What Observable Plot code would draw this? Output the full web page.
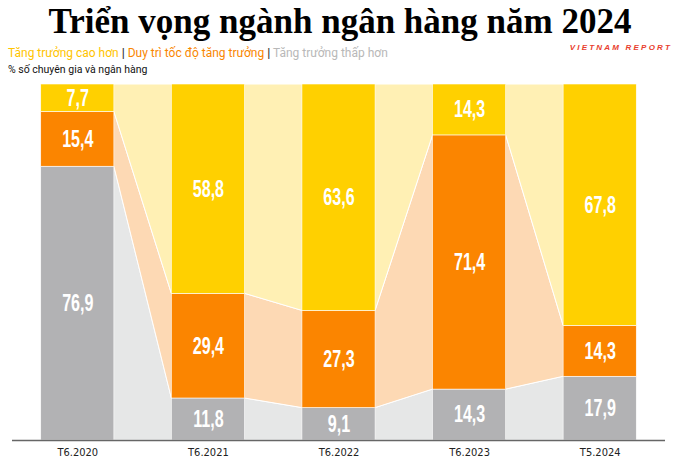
<!DOCTYPE html>
<html>
<head>
<meta charset="utf-8">
<script src="https://cdn.jsdelivr.net/npm/d3@7"></script>
<script src="https://cdn.jsdelivr.net/npm/@observablehq/plot@0.6"></script>
<style>
  html, body { margin: 0; padding: 0; background: #fff; }
  #wrap { position: relative; width: 680px; height: 464px; overflow: hidden; }
  #header { position: relative; width: 680px; height: 80px; }
  #title { position: absolute; left: 0; top: 0; width: 680px; text-align: center;
    font-family: "Liberation Serif", "Times New Roman", serif; font-weight: bold;
    font-size: 35px; line-height: 44px; color: #000; }
  #brand { position: absolute; right: 8px; top: 43px; font-family: "Liberation Sans", Arial, sans-serif;
    font-weight: bold; font-style: italic; font-size: 8px; letter-spacing: 2.2px; color: #e8402e; }
  #legend { position: absolute; left: 8px; top: 45px; font-family: Roboto, "Noto Sans", sans-serif;
    font-size: 12px; line-height: 16px; white-space: nowrap; }
  #legend .sep { color: #333; font-weight: bold; }
  #sub { position: absolute; left: 8px; top: 63px; font-family: Roboto, "Noto Sans", sans-serif;
    font-size: 10.5px; line-height: 14px; color: #111; }
  #chart svg { display: block; }
</style>
</head>
<body>
<div id="wrap">
  <div id="header">
    <div id="title">Triển vọng ngành ngân hàng năm 2024</div>
    <div id="brand">VIETNAM REPORT</div>
    <div id="legend"></div>
    <div id="sub">% số chuyên gia và ngân hàng</div>
  </div>
  <div id="chart"></div>
</div>
<script>
const periods = ["T6.2020", "T6.2021", "T6.2022", "T6.2023", "T5.2024"];
const higher = [7.7, 58.8, 63.6, 14.3, 67.8];
const same = [15.4, 29.4, 27.3, 71.4, 14.3];
const lower = [76.9, 11.8, 9.1, 14.3, 17.9];
const seriesNames = ["Tăng trưởng cao hơn", "Duy trì tốc độ tăng trưởng", "Tăng trưởng thấp hơn"];

const barColor = {lower: "#b2b2b4", same: "#fb8500", higher: "#ffd000"};
const lightColor = {lower: "#e6e7e7", same: "#fdd9b4", higher: "#fff0b4"};
const legendColor = ["#ffc400", "#f98600", "#b8b8b8"];

// legend
document.getElementById("legend").innerHTML = seriesNames
  .map((s, k) => `<span style="color:${legendColor[k]}">${s}</span>`)
  .join(' <span class="sep">|</span> ');

// stacked rows
const rows = [];
periods.forEach((p, i) => {
  let base = 0;
  for (const [key, arr] of [["lower", lower], ["same", same], ["higher", higher]]) {
    const v = arr[i];
    rows.push({i, period: p, key, value: v, y1: base, y2: base + v});
    base += v;
  }
});

const hw = 0.28; // half bar width in index units
// connecting area points at bar edges
const areaPts = [];
for (const r of rows) {
  areaPts.push({x: r.i - hw, y1: r.y1, y2: r.y2, key: r.key});
  areaPts.push({x: r.i + hw, y1: r.y1, y2: r.y2, key: r.key});
}

const fmt = v => String(v.toFixed(1)).replace(".", ",");

const chart = Plot.plot({
  width: 680,
  height: 384,
  marginTop: 4,
  marginBottom: 24,
  marginLeft: 12,
  marginRight: 15,
  x: {domain: [-0.5, 4.5], axis: null},
  y: {domain: [0, 100], axis: null},
  marks: [
    Plot.area(areaPts, {x1: "x", y1: "y1", y2: "y2", z: "key",
      fill: d => lightColor[d.key], stroke: "white", strokeWidth: 1}),
    Plot.rect(rows, {x1: d => d.i - hw, x2: d => d.i + hw, y1: "y1", y2: "y2",
      fill: d => barColor[d.key], stroke: "white", strokeWidth: 0.6}),
    Plot.text(rows, {x: "i", y: d => (d.y1 + d.y2) / 2, text: d => fmt(d.value),
      fill: "white", fontSize: 23, fontWeight: "bold",
      fontFamily: "'Liberation Sans', Arial, sans-serif"}),
    Plot.ruleY([0], {stroke: "#666", strokeWidth: 1.5}),
    Plot.axisX({ticks: d3.range(periods.length), tickFormat: i => periods[i], tickSize: 0,
      tickPadding: 8, fontSize: 11, fill: "#222",
      fontFamily: "'Liberation Sans Narrow', 'DejaVu Sans Condensed', sans-serif"})
  ]
});
document.getElementById("chart").appendChild(chart);

// condense the value labels (reference uses a narrow display face)
d3.select(chart).selectAll("g[aria-label='text'] text").each(function() {
  const w = this.getComputedTextLength();
  this.setAttribute("textLength", (w * 0.7).toFixed(1));
  this.setAttribute("lengthAdjust", "spacingAndGlyphs");
});
</script>
</body>
</html>
